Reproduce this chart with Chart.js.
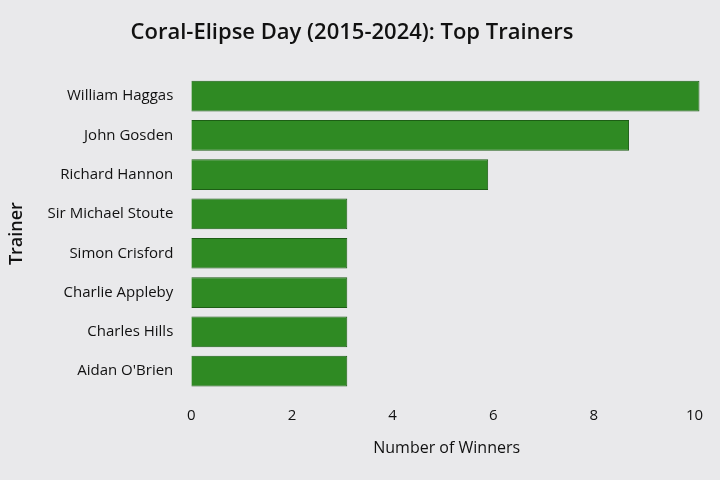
<!DOCTYPE html>
<html><head><meta charset="utf-8">
<script src="https://cdn.jsdelivr.net/npm/chart.js@4"></script>
<style>html,body{margin:0;padding:0;background:#e9e9eb;}#w{width:720px;height:480px;}</style>
</head><body><div id="w"><canvas id="c" width="720" height="480"></canvas></div>
<script>
const trainers = ["William Haggas","John Gosden","Richard Hannon","Sir Michael Stoute","Simon Crisford","Charlie Appleby","Charles Hills","Aidan O'Brien"];
const winners = [10.1, 8.7, 5.9, 3.1, 3.1, 3.1, 3.1, 3.1];
const xTicks = [0,2,4,6,8,10];
new Chart(document.getElementById('c'), {
  type: 'bar',
  data: { labels: trainers, datasets: [{ data: winners, backgroundColor: '#2f8a23', borderColor: '#1d5e15', borderWidth: 1, categoryPercentage: 0.78, barPercentage: 1 }] },
  options: {
    indexAxis: 'y', responsive: false, animation: false,
    layout: { padding: { left: 2, right: 18, top: 12, bottom: 18 } },
    plugins: {
      legend: { display: false }, tooltip: { enabled: false },
      title: { display: true, text: 'Coral-Elipse Day (2015-2024): Top Trainers', color: '#111', font: { family: 'Open Sans', size: 22, weight: '600' }, padding: { top: 8, bottom: 30 } }
    },
    scales: {
      x: { min: 0, max: 10.15, grid: { display: false }, border: { display: false },
        afterBuildTicks: a => { a.ticks = xTicks.map(v => ({ value: v })); },
        ticks: { color: '#111', font: { family: 'Open Sans', size: 15, weight: '500' }, padding: 8 },
        title: { display: true, text: 'Number of Winners', color: '#111', font: { family: 'Open Sans', size: 16, weight: '500' }, padding: { top: 6 } } },
      y: { grid: { display: false }, border: { display: false },
        ticks: { color: '#111', font: { family: 'Open Sans', size: 15, weight: '500' }, padding: 10 },
        title: { display: true, text: 'Trainer', color: '#111', font: { family: 'Open Sans', size: 18, weight: '600' }, padding: { bottom: 10 } } }
    }
  }
});
</script></body></html>
